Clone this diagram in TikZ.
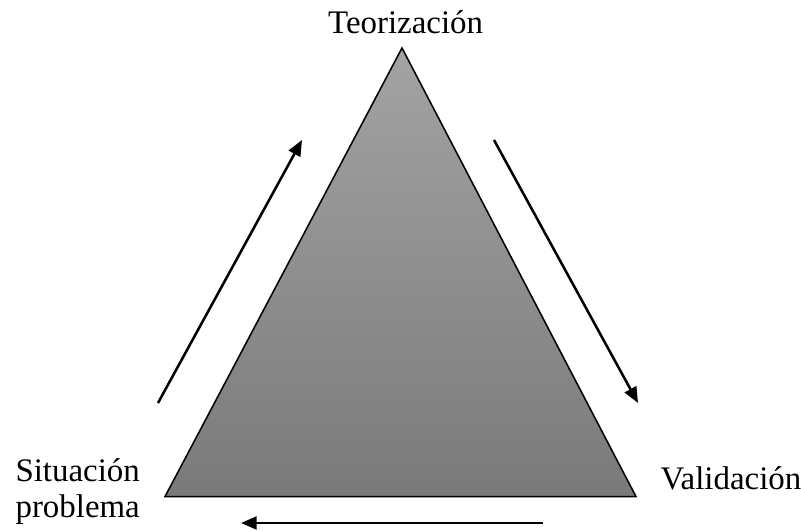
\documentclass[tikz,border=0pt]{standalone}
\usepackage{fontspec}
\setmainfont{Liberation Serif}
\usepackage{tikz}
\usetikzlibrary{arrows.meta}
\definecolor{tritop}{RGB}{163,163,163}
\definecolor{tribot}{RGB}{122,122,122}
\tikzset{
  fase/.style={font=\fontsize{11.7}{13.5}\selectfont, inner sep=0pt},
  ciclo/.style={line width=0.9pt, -{Triangle[length=5.6pt,width=4.6pt]}}
}
\begin{document}
\begin{tikzpicture}
\useasboundingbox (0,0) rectangle (10.0125,6.6375);
% triangulo
\coordinate (top) at (5.025,6.0375);
\coordinate (izq) at (2.0625,0.43);
\coordinate (der) at (7.95,0.43);
\draw [line width=0.55pt, top color=tritop, bottom color=tribot] (top) -- (izq) -- (der) -- cycle;
% etiquetas
\node [fase, anchor=base] (teor) at (5.07,6.2125) {Teorización};
\node [fase, anchor=base west] (sit) at (0.1875,0.6125) {Situación};
\node [fase, anchor=base west] (prob) at (0.1875,0.1625) {problema};
\node [fase, anchor=base west] (val) at (8.25,0.5125) {Validación};
% flechas
\coordinate (a1) at (1.975,1.6);
\coordinate (a2) at (3.775,4.8875);
\coordinate (b1) at (6.175,4.8875);
\coordinate (b2) at (7.975,1.6);
\coordinate (c1) at (6.7875,0.1);
\coordinate (c2) at (3.0125,0.1);
\draw [ciclo] (a1) -- (a2);
\draw [ciclo] (b1) -- (b2);
\draw [ciclo] (c1) -- (c2);
\end{tikzpicture}
\end{document}
